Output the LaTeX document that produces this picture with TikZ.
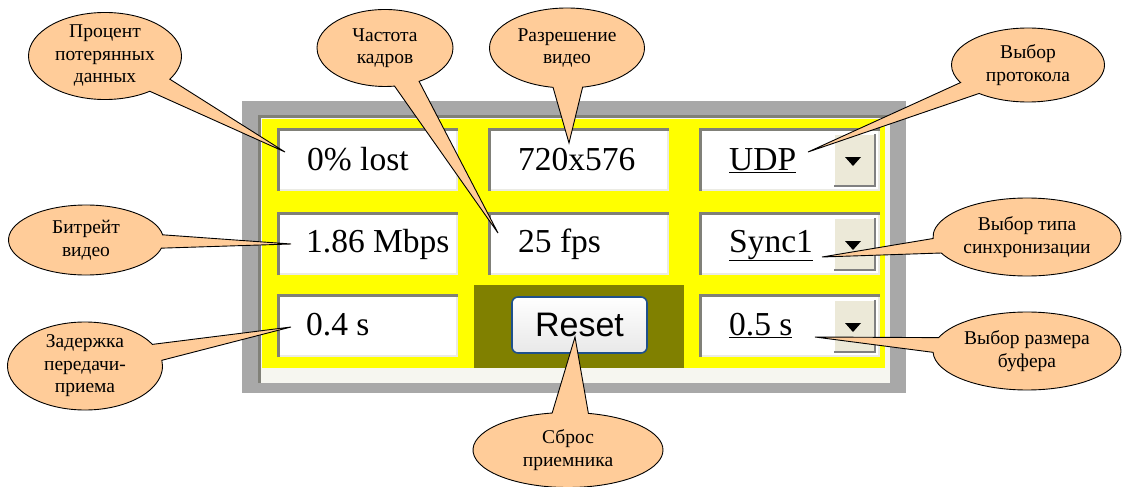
\documentclass[tikz,border=0pt]{standalone}
\usepackage{fontspec}
\setmainfont{Liberation Serif}
\newfontfamily\uifont{Liberation Sans}
\usetikzlibrary{shapes.callouts}
\definecolor{peach}{RGB}{255,204,153}
\definecolor{framegray}{RGB}{168,168,168}
\definecolor{panellight}{RGB}{246,246,240}
\definecolor{panelyellow}{RGB}{255,255,0}
\definecolor{olivebg}{RGB}{128,128,0}
\definecolor{btnface}{RGB}{236,233,216}
\definecolor{btnblue}{RGB}{30,80,140}
\definecolor{sunkdark}{RGB}{128,128,120}
\definecolor{sunklight}{RGB}{235,235,228}
\tikzset{
  note/.style={ellipse callout, draw=black, fill=peach, line width=0.9pt,
    inner sep=0pt, align=center, callout pointer arc=22,
    font=\rmfamily\fontsize{19.5}{22.5}\selectfont},
  field/.style={anchor=base west, inner sep=0pt,
    font=\rmfamily\fontsize{33.5}{36}\selectfont},
  resetbtn/.style={rounded corners=6pt, draw=btnblue, line width=1.6pt,
    top color=white, bottom color=gray!18, minimum width=135pt,
    minimum height=56pt, inner sep=0pt, font=\uifont\fontsize{34}{36}\selectfont}
}
\begin{document}
\begin{tikzpicture}[x=1pt,y=-1pt]
  \useasboundingbox (0,0) rectangle (1122,487);
  % panel
  \fill[framegray] (242,101) rectangle (906,393);
  \fill[panellight] (258,115) rectangle (890,383);
  \draw[sunkdark,line width=3pt] (259.5,383) -- (259.5,116.5) -- (890,116.5);
  \fill[panelyellow] (262,119) rectangle (885,368);
  \fill[olivebg] (474,285) rectangle (684,368);
  % fields
  \foreach \x/\y in {277/128,488/128,699/128,277/212,488/212,699/212,277/294,699/294}
  {
    \fill[white] (\x,\y) rectangle ++(181,63);
    \draw[sunkdark,line width=3pt] (\x+1.5,\y+63) -- (\x+1.5,\y+1.5) -- (\x+181,\y+1.5);
    \draw[sunklight,line width=2pt] (\x+3,\y+62) -- (\x+180,\y+62) -- (\x+180,\y+3);
  }
  % drop-down buttons
  \foreach \y in {128,212,294}
  {
    \fill[btnface] (833,\y+5) rectangle (876,\y+59);
    \draw[white,line width=1.5pt] (834,\y+59) -- (834,\y+6) -- (876,\y+6);
    \draw[gray,line width=1.5pt] (834,\y+58) -- (875,\y+58) -- (875,\y+6);
    \fill[black] (845,\y+29) -- (861,\y+29) -- (853,\y+38) -- cycle;
  }
  \node[field] (lost) at (307,170) {0\% lost};
  \node[field] (res) at (518,170) {720x576};
  \node[field] (proto) at (729,170) {\underline{UDP}};
  \node[field] (rate) at (306,252) {1.86 Mbps};
  \node[field] (fps) at (518,252) {25 fps};
  \node[field] (sync) at (729,252) {\underline{Sync1}};
  \node[field] (delay) at (306,335) {0.4 s};
  \node[field] (buf) at (729,335) {\underline{0.5 s}};
  \node[resetbtn] (reset) at (579.5,325) {Reset};
  % pointer tips
  \coordinate (pLost) at (285,152);
  \coordinate (pFps) at (498,233);
  \coordinate (pRes) at (569,143);
  \coordinate (pProto) at (808,152);
  \coordinate (pRate) at (291,244);
  \coordinate (pDelay) at (291,327);
  \coordinate (pReset) at (575,337);
  \coordinate (pSync) at (822,257);
  \coordinate (pBuf) at (815,337);
  % callouts
  \node[note, minimum width=153pt, minimum height=87pt, callout absolute pointer={(pLost)}]
    (cLost) at (105,56) {Процент\\потерянных\\данных};
  \node[note, minimum width=136pt, minimum height=77pt, callout absolute pointer={(pFps)}]
    (cFps) at (385,48) {Частота\\кадров};
  \node[note, minimum width=155pt, minimum height=80pt, callout absolute pointer={(pRes)}]
    (cRes) at (567,48) {Разрешение\\видео};
  \node[note, minimum width=153pt, minimum height=74pt, callout absolute pointer={(pProto)}]
    (cProto) at (1028,65) {Выбор\\протокола};
  \node[note, minimum width=155pt, minimum height=70pt, callout absolute pointer={(pRate)}]
    (cRate) at (86,240) {Битрейт\\видео};
  \node[note, minimum width=155pt, minimum height=88pt, callout absolute pointer={(pDelay)}]
    (cDelay) at (85,366) {Задержка\\передачи-\\приема};
  \node[note, minimum width=190pt, minimum height=75pt, callout absolute pointer={(pReset)}]
    (cReset) at (568,450) {Сброс\\приемника};
  \node[note, minimum width=188pt, minimum height=78pt, callout absolute pointer={(pSync)}]
    (cSync) at (1027,237) {Выбор типа\\синхронизации};
  \node[note, minimum width=188pt, minimum height=78pt, callout absolute pointer={(pBuf)}]
    (cBuf) at (1027,351) {Выбор размера\\буфера};
\end{tikzpicture}
\end{document}
